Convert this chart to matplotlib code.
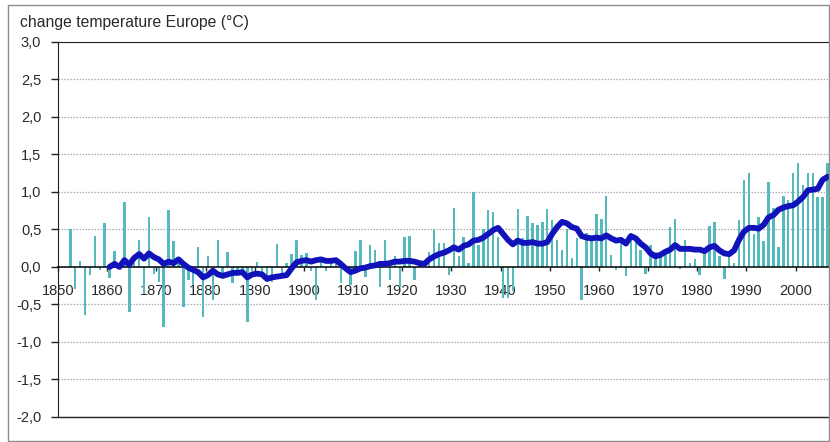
import numpy as np
import matplotlib
matplotlib.use("Agg")
import matplotlib.pyplot as plt
from matplotlib.patches import Rectangle

plt.rcParams['font.family'] = ['Liberation Sans', 'DejaVu Sans']

# ---------------- data ----------------
bar_years = list(range(1852, 2007))
bar_values = [
    0.50, -0.30, 0.08, -0.64, -0.11, 0.41, -0.04, 0.58,              # 1852-1859
    -0.15, 0.21, 0.05, 0.86, -0.60, 0.05, 0.36, -0.36, 0.67, -0.10,  # 1860-1869
    -0.20, -0.80, 0.76, 0.34, 0.08, -0.53, -0.18, -0.24, 0.27, -0.67,  # 1870-1879
    0.14, -0.44, 0.36, -0.09, 0.20, -0.22, -0.05, -0.10, -0.73, -0.05,  # 1880-1889
    0.07, -0.10, -0.20, -0.20, 0.31, -0.10, 0.05, 0.17, 0.36, 0.16,   # 1890-1899
    0.19, -0.05, -0.44, 0.08, -0.05, 0.05, 0.08, -0.22, -0.05, -0.24,  # 1900-1909
    0.21, 0.36, -0.13, 0.29, 0.22, -0.27, 0.36, -0.18, 0.14, -0.27,   # 1910-1919
    0.40, 0.41, -0.18, 0.05, 0.03, 0.20, 0.51, 0.32, 0.32, -0.11,     # 1920-1929
    0.78, 0.15, 0.40, 0.05, 1.00, 0.29, 0.51, 0.76, 0.73, 0.40,       # 1930-1939
    -0.42, -0.42, -0.32, 0.77, 0.38, 0.68, 0.59, 0.56, 0.60, 0.77,    # 1940-1949
    0.62, 0.36, 0.22, 0.50, 0.12, 0.38, -0.44, 0.45, 0.40, 0.70,      # 1950-1959
    0.64, 0.95, 0.16, -0.04, 0.34, -0.12, 0.45, 0.33, 0.22, -0.09,    # 1960-1969
    0.29, 0.20, 0.13, 0.20, 0.53, 0.64, -0.03, 0.36, 0.05, 0.11,      # 1970-1979
    -0.11, 0.21, 0.54, 0.60, 0.15, -0.16, 0.15, 0.05, 0.62, 1.16,     # 1980-1989
    1.25, 0.44, 0.66, 0.34, 1.13, 0.79, 0.26, 0.94, 0.89, 1.25,       # 1990-1999
    1.38, 1.09, 1.25, 1.25, 0.93, 0.93, 1.38,                         # 2000-2006
]

line_years = list(range(1860, 2007))
line_values = [
    0.00, 0.04, 0.00, 0.09, 0.03, 0.12, 0.17, 0.11, 0.18, 0.13,       # 1860-1869
    0.10, 0.04, 0.07, 0.05, 0.10, 0.04, -0.01, -0.04, -0.07, -0.14,   # 1870-1879
    -0.11, -0.05, -0.10, -0.12, -0.10, -0.08, -0.08, -0.07, -0.14, -0.10,  # 1880-1889
    -0.09, -0.10, -0.16, -0.14, -0.13, -0.12, -0.11, -0.02, 0.06, 0.08,  # 1890-1899
    0.09, 0.07, 0.09, 0.10, 0.08, 0.08, 0.09, 0.04, -0.02, -0.07,     # 1900-1909
    -0.05, -0.02, -0.01, 0.01, 0.02, 0.04, 0.04, 0.05, 0.07, 0.07,    # 1910-1919
    0.08, 0.08, 0.07, 0.05, 0.04, 0.10, 0.14, 0.17, 0.19, 0.22,       # 1920-1929
    0.26, 0.23, 0.28, 0.30, 0.35, 0.36, 0.39, 0.44, 0.49, 0.52,       # 1930-1939
    0.44, 0.36, 0.30, 0.35, 0.32, 0.32, 0.33, 0.31, 0.31, 0.33,       # 1940-1949
    0.44, 0.53, 0.60, 0.58, 0.53, 0.51, 0.41, 0.39, 0.38, 0.39,       # 1950-1959
    0.38, 0.42, 0.38, 0.35, 0.36, 0.31, 0.41, 0.38, 0.31, 0.26,       # 1960-1969
    0.18, 0.14, 0.16, 0.20, 0.23, 0.29, 0.24, 0.24, 0.24, 0.23,       # 1970-1979
    0.23, 0.21, 0.26, 0.28, 0.22, 0.18, 0.17, 0.22, 0.36, 0.47,       # 1980-1989
    0.52, 0.52, 0.51, 0.56, 0.66, 0.69, 0.76, 0.79, 0.81, 0.82,       # 1990-1999
    0.87, 0.93, 1.02, 1.03, 1.04, 1.16, 1.20,                         # 2000-2006
]

decade_labels = [str(y) for y in range(1850, 2001, 10)]
ytick_values = [3.0, 2.5, 2.0, 1.5, 1.0, 0.5, 0.0, -0.5, -1.0, -1.5, -2.0]
title_text = "change temperature Europe (°C)"

# ---------------- figure ----------------
W, H = 830, 442
fig = plt.figure(figsize=(W / 100, H / 100), dpi=100)
fig.patch.set_facecolor('white')

# outer chart border
fig.patches.append(Rectangle((8 / W, 1 / H), (W - 9) / W, (H - 6) / H,
                             transform=fig.transFigure, fill=False,
                             edgecolor='#8c8c8c', linewidth=1.0))

left, right, top, bottom = 58, 830, 41.7, 417
ax = fig.add_axes([left / W, (H - bottom) / H, (right - left) / W, (bottom - top) / H])

text_color = '#2a2a2a'

# gridlines
for v in ytick_values:
    if v != 0.0:
        ax.axhline(v, color='#ababab', linewidth=0.9, linestyle=(0, (1.2, 1.2)), zorder=0)

ax.bar(bar_years, bar_values, width=0.5, color='#56b9be', edgecolor='none', zorder=2)
ax.plot(line_years, line_values, color='#1212bb', linewidth=4.2,
        solid_capstyle='round', solid_joinstyle='round', zorder=4)

ax.set_ylim(-2.0, 3.0)
ax.set_xlim(1849.5, 2006.5)

ax.set_yticks(ytick_values)
ax.set_yticklabels([f"{v:.1f}".replace('.', ',') for v in ytick_values])
ax.tick_params(axis='y', direction='out', length=5, width=1, color='#222222',
               pad=7, labelsize=10.5, labelcolor=text_color)

ax.set_xticks([int(l) - 0.5 for l in decade_labels])
ax.set_xticklabels(decade_labels)
ax.tick_params(axis='x', direction='out', length=3, width=1, color='#222222',
               pad=9, labelsize=10.5, labelcolor=text_color)

ax.spines['bottom'].set_position(('data', 0))
ax.spines['bottom'].set_color('black')
ax.spines['bottom'].set_linewidth(1.1)
ax.spines['bottom'].set_zorder(3)
ax.spines['left'].set_color('#222222')
ax.spines['top'].set_color('#222222')
ax.spines['right'].set_visible(False)
ax.plot([0, 1], [0, 0], transform=ax.transAxes, color='#222222', linewidth=1.0,
        clip_on=False, zorder=5)

fig.text(20 / W, 1 - 23 / H, title_text, fontsize=11.3, color=text_color,
         ha='left', va='center')

fig.savefig('out.png', dpi=100)
